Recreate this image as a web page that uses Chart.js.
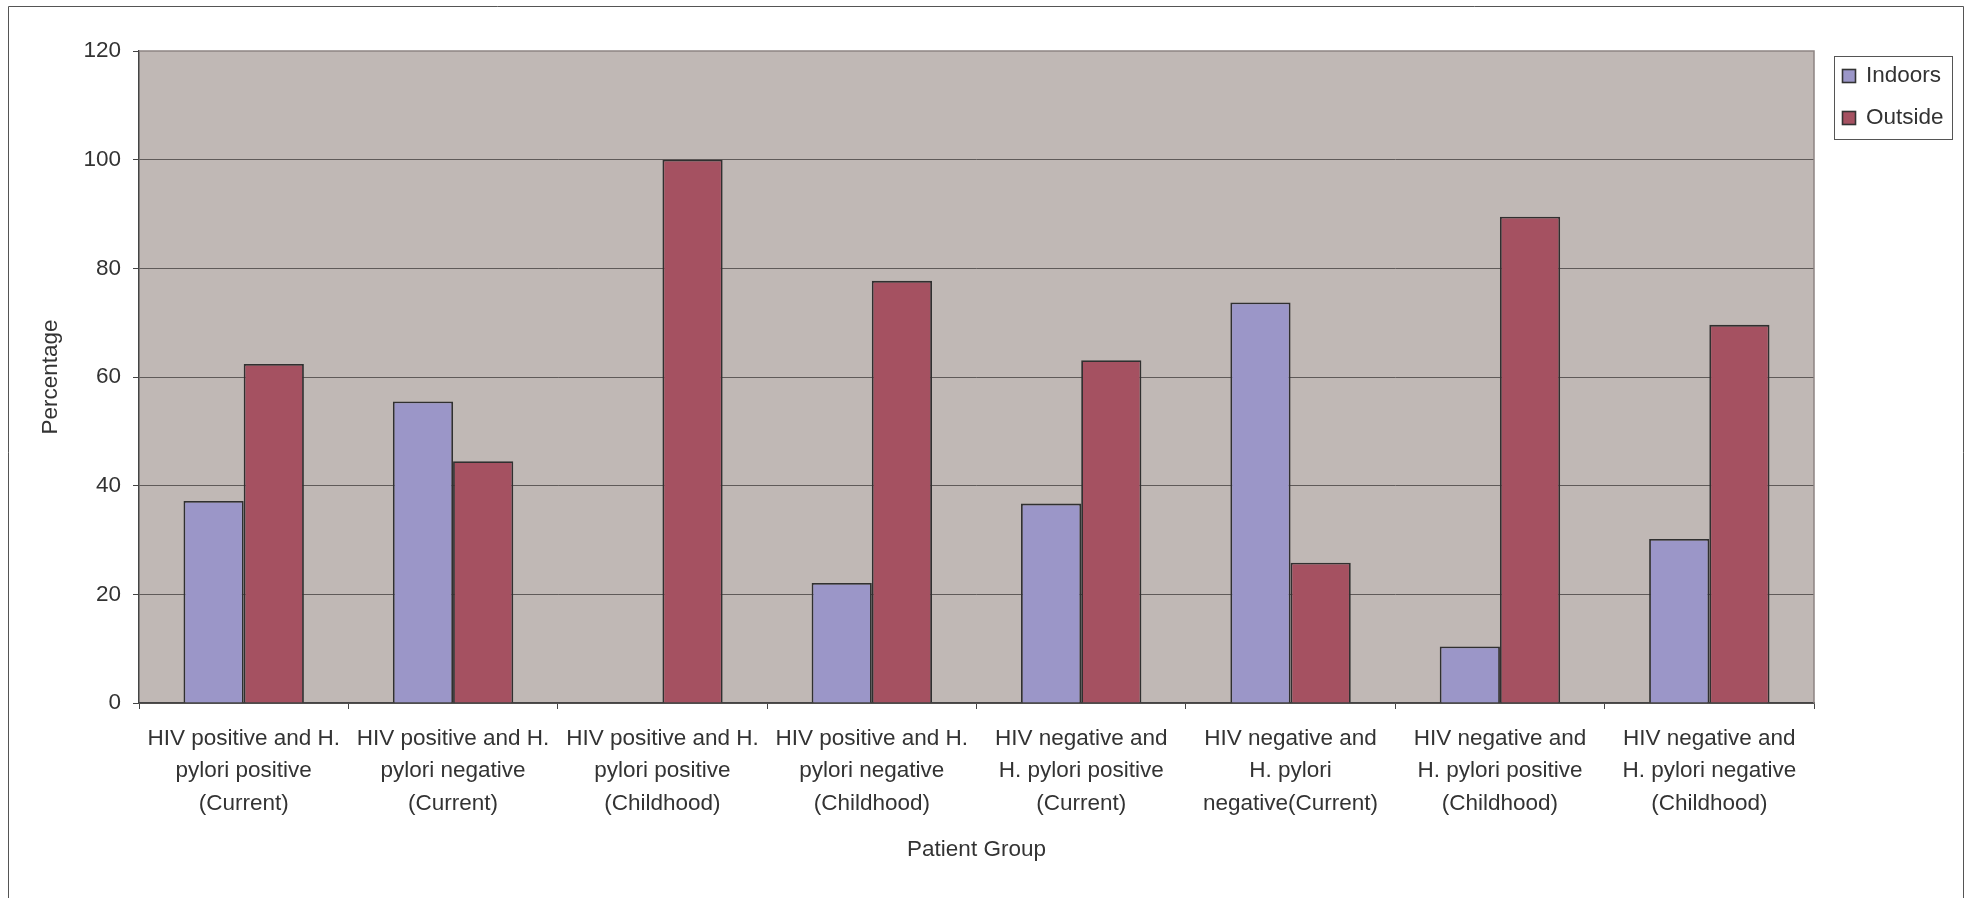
<!DOCTYPE html>
<html>
<head>
<meta charset="utf-8">
<script src="https://cdn.jsdelivr.net/npm/chart.js@4/dist/chart.umd.min.js"></script>
<style>
  html, body { margin: 0; padding: 0; background: #ffffff; }
  #wrap { width: 1965px; height: 898px; position: relative; }
</style>
</head>
<body>
<div id="wrap"><canvas id="c" width="1965" height="898"></canvas></div>
<script>
const categories = [
  ["HIV positive and H.", "pylori positive", "(Current)"],
  ["HIV positive and H.", "pylori negative", "(Current)"],
  ["HIV positive and H.", "pylori positive", "(Childhood)"],
  ["HIV positive and H.", "pylori negative", "(Childhood)"],
  ["HIV negative and", "H. pylori positive", "(Current)"],
  ["HIV negative and", "H. pylori", "negative(Current)"],
  ["HIV negative and", "H. pylori positive", "(Childhood)"],
  ["HIV negative and", "H. pylori negative", "(Childhood)"]
];
const seriesNames = ["Indoors", "Outside"];
const indoors = [37.2, 55.5, 0, 22.1, 36.7, 73.7, 10.4, 30.2];
const outside = [62.4, 44.5, 100, 77.7, 63.1, 25.8, 89.5, 69.6];
const yTicks = [0, 20, 40, 60, 80, 100, 120];

const FONT = "'Liberation Sans', Arial, Helvetica, sans-serif";
const TXT = '#333333';
const colors = ['#9b96c8', '#a55161'];

const framePlugin = {
  id: 'frame',
  beforeDraw(chart) {
    const ctx = chart.ctx;
    const a = chart.chartArea;
    ctx.save();
    ctx.fillStyle = '#ffffff';
    ctx.fillRect(0, 0, chart.width, chart.height);
    ctx.strokeStyle = '#555555';
    ctx.lineWidth = 1;
    ctx.beginPath();
    ctx.moveTo(8.5, 898);
    ctx.lineTo(8.5, 6.5);
    ctx.lineTo(1963.5, 6.5);
    ctx.lineTo(1963.5, 898);
    ctx.stroke();
    ctx.fillStyle = '#c0b8b5';
    ctx.fillRect(a.left, a.top, a.right - a.left, a.bottom - a.top);
    ctx.restore();
  },
  afterDatasetsDraw(chart) {
    const ctx = chart.ctx;
    const a = chart.chartArea;
    ctx.save();
    ctx.strokeStyle = '#8d8482';
    ctx.lineWidth = 1.5;
    ctx.beginPath();
    ctx.moveTo(a.left, a.top);
    ctx.lineTo(a.right, a.top);
    ctx.lineTo(a.right, a.bottom);
    ctx.stroke();
    ctx.restore();
  },
  afterDraw(chart) {
    const ctx = chart.ctx;
    ctx.save();
    const bx = 1834, by = 56, bw = 118, bh = 83;
    ctx.fillStyle = '#ffffff';
    ctx.fillRect(bx, by, bw, bh);
    ctx.strokeStyle = '#555555';
    ctx.lineWidth = 1;
    ctx.strokeRect(bx + 0.5, by + 0.5, bw, bh);
    const rows = [76, 118];
    chart.data.datasets.forEach((ds, i) => {
      const cy = rows[i];
      ctx.fillStyle = ds.backgroundColor;
      ctx.fillRect(1842, cy - 7, 14, 14);
      ctx.strokeStyle = '#333333';
      ctx.lineWidth = 1.6;
      ctx.strokeRect(1842.5, cy - 6.5, 13, 13);
      ctx.fillStyle = TXT;
      ctx.font = '22.5px ' + FONT;
      ctx.textBaseline = 'middle';
      ctx.textAlign = 'left';
      ctx.fillText(ds.label, 1866, cy);
    });
    ctx.restore();
  }
};

new Chart(document.getElementById('c'), {
  type: 'bar',
  data: {
    labels: categories,
    datasets: [
      { label: seriesNames[0], data: indoors, backgroundColor: colors[0], borderColor: '#303030', borderWidth: 1.8 },
      { label: seriesNames[1], data: outside, backgroundColor: colors[1], borderColor: '#303030', borderWidth: 1.8 }
    ]
  },
  options: {
    responsive: false,
    animation: false,
    devicePixelRatio: 1,
    layout: { padding: { left: 10, top: 51, right: 151, bottom: 0 } },
    plugins: {
      legend: { display: false },
      tooltip: { enabled: false }
    },
    datasets: { bar: { categoryPercentage: 0.575, barPercentage: 1.0 } },
    scales: {
      x: {
        afterFit(scale) { scale.height = 195; },
        grid: {
          display: true,
          drawOnChartArea: false,
          offset: true,
          tickLength: 6,
          tickColor: '#444444',
          lineWidth: 1
        },
        border: { display: true, color: '#444444', width: 1.5 },
        ticks: {
          autoSkip: false,
          maxRotation: 0,
          minRotation: 0,
          padding: 13,
          color: TXT,
          font: { family: FONT, size: 22.5, lineHeight: 1.46 }
        },
        title: {
          display: true,
          text: 'Patient Group',
          color: TXT,
          font: { family: FONT, size: 22.5, lineHeight: 1.2 },
          padding: { top: 0, bottom: 34.5 }
        }
      },
      y: {
        min: 0,
        max: 120,
        afterFit(scale) { scale.width = 129; },
        afterBuildTicks(scale) { scale.ticks = yTicks.map(v => ({ value: v })); },
        grid: {
          color: (c) => (c.tick && c.tick.value === 120) ? 'rgba(0,0,0,0)' : '#5f5a59',
          tickColor: '#444444',
          tickLength: 6,
          lineWidth: 1
        },
        border: { display: true, color: '#444444', width: 1.5 },
        ticks: {
          padding: 12,
          color: TXT,
          font: { family: FONT, size: 22.5 }
        },
        title: {
          display: true,
          text: 'Percentage',
          color: TXT,
          font: { family: FONT, size: 22.5, lineHeight: 1.2 },
          padding: { top: 27.5, bottom: 0 }
        }
      }
    }
  },
  plugins: [framePlugin]
});
</script>
</body>
</html>
